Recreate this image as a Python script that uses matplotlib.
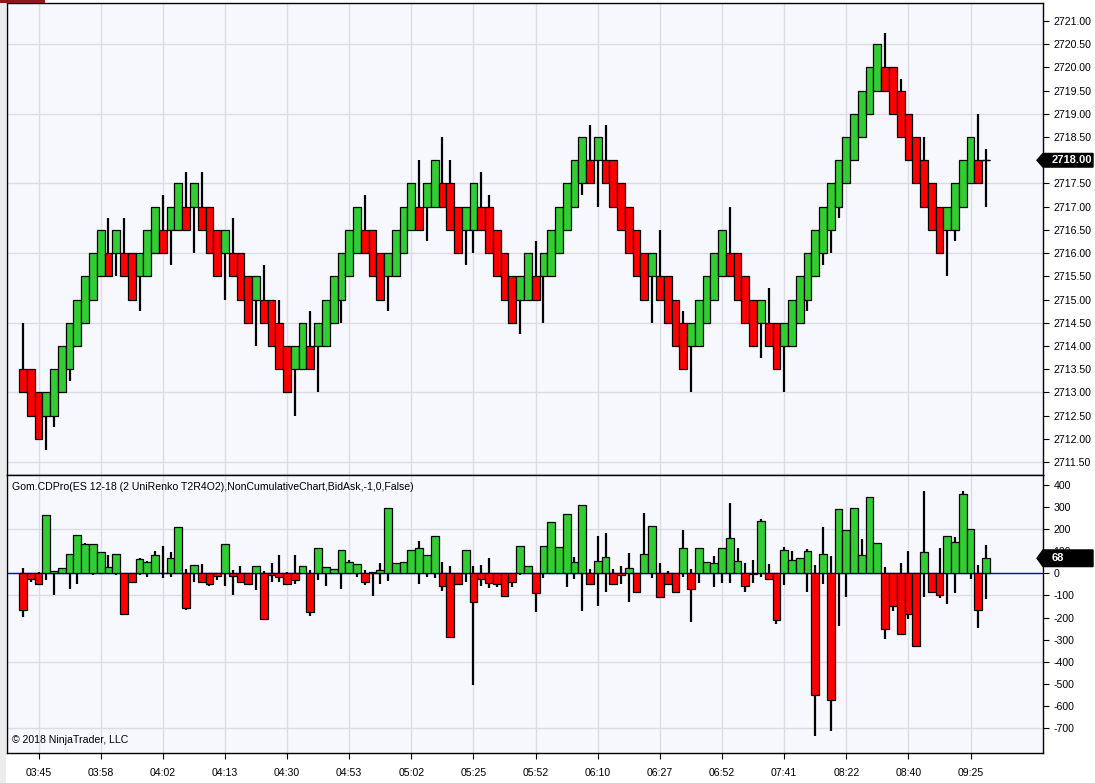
import matplotlib
matplotlib.use('Agg')
import matplotlib.pyplot as plt
from matplotlib.patches import Rectangle, Polygon
import numpy as np

plt.rcParams['font.family'] = ['Liberation Sans', 'DejaVu Sans']

# ---------------- data ----------------
opens = [2713.5, 2713.5, 2713.0, 2712.5, 2712.5, 2713.0, 2713.5, 2714.0, 2714.5, 2715.0,
         2715.5, 2716.0, 2716.0, 2716.0, 2716.0, 2715.5, 2715.5, 2716.0, 2716.5, 2716.5,
         2716.5, 2717.0, 2717.0, 2717.0, 2717.0, 2716.5, 2716.0, 2716.0, 2716.0, 2715.5,
         2715.0, 2715.0, 2715.0, 2714.5, 2714.0, 2713.5, 2713.5, 2714.0, 2714.0, 2714.0,
         2714.5, 2715.0, 2715.5, 2716.0, 2716.5, 2716.5, 2716.0, 2715.5, 2715.5, 2716.0,
         2716.5, 2717.0, 2717.0, 2717.0, 2717.5, 2717.5, 2717.0, 2716.5, 2716.5, 2717.0,
         2717.0, 2716.5, 2716.0, 2715.5, 2715.0, 2715.0, 2715.5, 2715.5, 2715.5, 2716.0,
         2716.5, 2717.0, 2717.5, 2718.0, 2718.0, 2718.0, 2718.0, 2717.5, 2717.0, 2716.5,
         2716.0, 2715.5, 2715.5, 2715.5, 2715.0, 2714.5, 2714.0, 2714.0, 2714.5, 2715.0,
         2715.5, 2716.0, 2716.0, 2715.5, 2715.0, 2714.5, 2714.5, 2714.5, 2714.0, 2714.0,
         2714.5, 2715.0, 2715.5, 2716.0, 2716.5, 2717.0, 2717.5, 2718.0, 2718.5, 2719.0,
         2719.5, 2720.0, 2720.0, 2719.5, 2719.0, 2718.5, 2718.0, 2717.5, 2717.0, 2716.5,
         2716.5, 2717.0, 2717.5, 2718.0, 2718.0]

closes = [2713.0, 2712.5, 2712.0, 2713.0, 2713.5, 2714.0, 2714.5, 2715.0, 2715.5, 2716.0,
          2716.5, 2715.5, 2716.5, 2715.5, 2715.0, 2716.0, 2716.5, 2717.0, 2716.0, 2717.0,
          2717.5, 2716.5, 2717.5, 2716.5, 2716.0, 2715.5, 2716.5, 2715.5, 2715.0, 2714.5,
          2715.5, 2714.5, 2714.0, 2713.5, 2713.0, 2714.0, 2714.5, 2713.5, 2714.5, 2715.0,
          2715.5, 2716.0, 2716.5, 2717.0, 2716.0, 2715.5, 2715.0, 2716.0, 2716.5, 2717.0,
          2717.5, 2716.5, 2717.5, 2718.0, 2717.0, 2716.5, 2716.0, 2717.0, 2717.5, 2716.5,
          2716.0, 2715.5, 2715.0, 2714.5, 2715.5, 2716.0, 2715.0, 2716.0, 2716.5, 2717.0,
          2717.5, 2718.0, 2718.5, 2717.5, 2718.5, 2717.5, 2717.0, 2716.5, 2716.0, 2715.5,
          2715.0, 2716.0, 2715.0, 2714.5, 2714.0, 2713.5, 2714.5, 2715.0, 2715.5, 2716.0,
          2716.5, 2715.5, 2715.0, 2714.5, 2714.0, 2715.0, 2714.0, 2713.5, 2714.5, 2715.0,
          2715.5, 2716.0, 2716.5, 2717.0, 2717.5, 2718.0, 2718.5, 2719.0, 2719.5, 2720.0,
          2720.5, 2719.5, 2719.0, 2718.5, 2718.0, 2717.5, 2717.0, 2716.5, 2716.0, 2717.0,
          2717.5, 2718.0, 2718.5, 2717.5, 2718.0]

# wick extremes that go beyond the body (bar index -> price)
high_wicks = {0: 2714.5, 11: 2716.75, 13: 2716.75, 18: 2717.25, 21: 2717.75, 23: 2717.75,
              27: 2716.75, 31: 2715.75, 33: 2715.0, 37: 2714.75, 44: 2717.25, 51: 2718.0,
              54: 2718.5, 55: 2718.0, 59: 2717.75, 60: 2717.25, 66: 2716.25, 73: 2718.75,
              75: 2718.75, 82: 2716.5, 85: 2714.75, 91: 2717.0, 96: 2715.25, 111: 2720.75,
              113: 2719.75, 116: 2718.5, 123: 2719.0, 124: 2718.25}
low_wicks = {3: 2711.75, 4: 2712.25, 6: 2713.25, 12: 2715.5, 15: 2714.75, 19: 2715.75,
             22: 2716.0, 26: 2715.0, 30: 2714.0, 35: 2712.5, 38: 2713.0, 41: 2714.5,
             47: 2714.75, 52: 2716.25, 57: 2715.75, 58: 2716.0, 64: 2714.25, 67: 2714.5,
             72: 2717.25, 74: 2717.0, 81: 2714.5, 86: 2713.0, 95: 2713.75, 98: 2713.0,
             101: 2714.75, 103: 2715.75, 104: 2716.0, 105: 2716.75, 119: 2715.5,
             120: 2716.25, 124: 2717.0}

delta_close = [-165, -26, -47, 264, 9, 24, 86, 173, 132, 132,
               95, 27, 86, -183, -41, 64, 50, 82, 0, 68,
               209, -155, 36, -38, -47, -14, 132, -14, -38, -50,
               33, -205, -9, -15, -50, -32, 32, -177, 114, 27,
               18, 105, 50, 41, -41, 8, 14, 295, 45, 50,
               105, 114, 82, 168, -56, -286, -50, 105, -132, -27,
               -45, -50, -101, -41, 123, 32, -91, 123, 233, 118,
               268, 50, 309, -47, 55, 73, -50, -9, 23, -86,
               86, 214, -105, -50, -86, 114, -73, 114, 50, 45,
               114, 159, 55, -59, -4, 236, -27, -211, 105, 59,
               68, 100, -552, 86, -573, 291, 195, 295, 82, 345,
               136, -250, -150, -273, -186, -327, 95, -86, -100, 168,
               141, 359, 200, -164, 68]
delta_high = [24, 0, 6, 264, 9, 24, 86, 173, 138, 132,
              95, 83, 86, 0, 0, 70, 56, 100, 123, 97,
              209, 20, 36, 42, 0, 0, 132, 15, 33, 0,
              33, 9, 45, 83, 6, 83, 32, 15, 114, 27,
              18, 105, 59, 41, 15, 8, 47, 295, 45, 50,
              105, 147, 82, 168, 50, 32, 0, 105, 32, 36,
              68, 0, 0, 0, 123, 32, 0, 123, 233, 118,
              268, 73, 309, 20, 168, 182, 20, 32, 91, 0,
              274, 214, 45, 9, 0, 195, 20, 114, 50, 77,
              114, 320, 114, 45, 59, 245, 41, 0, 118, 100,
              68, 109, 36, 209, 77, 291, 195, 295, 155, 345,
              136, 27, 0, 45, 100, 0, 373, 0, 114, 168,
              164, 373, 200, 36, 127]
delta_low = [-197, -38, -51, -29, -97, 0, -70, -47, 0, -9,
             0, 0, -9, -183, -41, -9, -15, 0, -21, -18,
             0, -165, -38, -38, -56, -29, -56, -97, -38, -50,
             -74, -205, -38, -38, -50, -47, 0, -191, -29, -56,
             0, -70, 0, -15, -51, -101, -47, -33, 0, 0,
             0, -47, -15, -20, -79, -286, -50, -38, -506, -56,
             -65, -61, -103, -61, -6, 0, -174, -20, 0, 0,
             -61, -24, -170, -51, -147, -83, -50, -47, -132, -86,
             0, -20, -111, -50, -86, -15, -220, -42, 0, -61,
             -42, -42, -5, -83, -42, -15, -27, -229, -51, 0,
             0, -83, -738, -47, -715, -238, -106, 0, 0, 0,
             0, -297, -170, -273, -206, -327, -106, -86, -111, -138,
             -88, 0, -24, -247, -115]

time_labels = ["03:45", "03:58", "04:02", "04:13", "04:30", "04:53", "05:02", "05:25",
               "05:52", "06:10", "06:27", "06:52", "07:41", "08:22", "08:40", "09:25"]
last_price = 2718.00
last_delta = 68

# ---------------- layout ----------------
W, H = 1095, 783
fig = plt.figure(figsize=(W / 100, H / 100), dpi=100)
fig.patch.set_facecolor('white')


def fx(px):
    return px / W


def fy(py):
    return 1 - py / H


BG = '#F7F8FE'
GRID = '#DCDDE3'
GREEN = '#32CD32'
RED = '#FF0000'
FS = 7.6

ax1 = fig.add_axes([fx(7), fy(475), fx(1043) - fx(7), fy(3) - fy(475)])
ax2 = fig.add_axes([fx(7), fy(753), fx(1043) - fx(7), fy(475) - fy(753)])

n = len(opens)
x = np.arange(n)
xmin = (7 - 23) / 7.767
xmax = (1043 - 23) / 7.767
label_pos = [2 + 8 * k for k in range(len(time_labels))]

for ax in (ax1, ax2):
    ax.set_facecolor(BG)
    ax.set_xlim(xmin, xmax)
    for s in ax.spines.values():
        s.set_color('black')
        s.set_linewidth(1.0)
    for p in label_pos:
        ax.axvline(p, color=GRID, lw=1.0, zorder=0)
    ax.yaxis.tick_right()
    ax.tick_params(axis='y', direction='out', length=4, width=0.8, pad=3.5,
                   labelsize=FS, colors='black')

# ---------------- price panel ----------------
highs = [max(o, c) for o, c in zip(opens, closes)]
lows = [min(o, c) for o, c in zip(opens, closes)]
for i, v in high_wicks.items():
    highs[i] = v
for i, v in low_wicks.items():
    lows[i] = v

ax1.set_ylim(2721 - (475 - 21) / 46.42, 2721 + 18 / 46.42)
for v in np.arange(2711.5, 2721.01, 1.5):
    ax1.axhline(v, color=GRID, lw=1.0, zorder=0)

ax1.vlines(x, lows, highs, color='black', lw=1.6, zorder=2)
bottoms = [min(o, c) for o, c in zip(opens, closes)]
heights = [abs(c - o) for o, c in zip(opens, closes)]
colors = [GREEN if c > o else RED for o, c in zip(opens, closes)]
ax1.bar(x, heights, bottom=bottoms, width=1.0, color=colors, edgecolor='black',
        linewidth=0.9, zorder=3)
for i in range(n):
    if opens[i] == closes[i]:
        ax1.hlines(closes[i], i - 0.5, i + 0.5, color='black', lw=0.9, zorder=3)

yt = np.arange(2711.5, 2721.01, 0.5)
ax1.set_yticks(yt)
ax1.set_yticklabels([f"{v:.2f}" for v in yt])
ax1.set_xticks(label_pos)
ax1.tick_params(axis='x', length=0, labelbottom=False)

# ---------------- delta panel ----------------
ax2.set_ylim(-(753 - 573.3) / 22.1 * 100, (573.3 - 475) / 22.1 * 100)
for v in (-700, -400, -100, 200):
    ax2.axhline(v, color=GRID, lw=1.0, zorder=0)
ax2.axhline(0, color='#0000CD', lw=1.0, zorder=1)

ax2.vlines(x, delta_low, delta_high, color='black', lw=1.6, zorder=2)
dcol = [GREEN if v > 0 else RED for v in delta_close]
ax2.bar(x, delta_close, width=1.0, color=dcol, edgecolor='black', linewidth=0.9, zorder=3)

dt = np.arange(-700, 401, 100)
ax2.set_yticks(dt)
ax2.set_yticklabels([str(v) for v in dt])
ax2.set_xticks(label_pos)
ax2.set_xticklabels(time_labels)
ax2.tick_params(axis='x', direction='out', length=4, width=0.8, pad=7, labelsize=FS)

# ---------------- texts & decorations ----------------
fig.text(fx(12), fy(487), "Gom.CDPro(ES 12-18 (2 UniRenko T2R4O2),NonCumulativeChart,BidAsk,-1,0,False)",
         fontsize=FS, va='center', ha='left', color='black')
fig.text(fx(12), fy(740), "\u00a9 2018 NinjaTrader, LLC", fontsize=FS, va='center', ha='left',
         color='black')

# left grey strip and top-left mark
fig.patches.append(Rectangle((0, 0), fx(6), 1, transform=fig.transFigure,
                             facecolor='#ECECEC', edgecolor='none', zorder=0))
fig.patches.append(Rectangle((0, fy(3)), fx(45), fy(0) - fy(3), transform=fig.transFigure,
                             facecolor='#8B1A1A', edgecolor='none', zorder=5))


def marker(yc, text, half):
    pts = [(1037, yc), (1043, yc - half), (1093, yc - half), (1093, yc + half), (1043, yc + half)]
    fig.patches.append(Polygon([(fx(a), fy(b)) for a, b in pts], closed=True,
                               transform=fig.transFigure, facecolor='black',
                               edgecolor='black', zorder=5))
    fig.text(fx(1052), fy(yc), text, color='white', fontsize=FS + 0.4, fontweight='bold',
             va='center', ha='left', zorder=6)


marker(21 + (2721 - last_price) * 46.42, f"{last_price:.2f}", 6.8)
marker(573.3 - last_delta * 0.221, str(last_delta), 8.3)

fig.savefig('out.png', dpi=100, facecolor='white')
